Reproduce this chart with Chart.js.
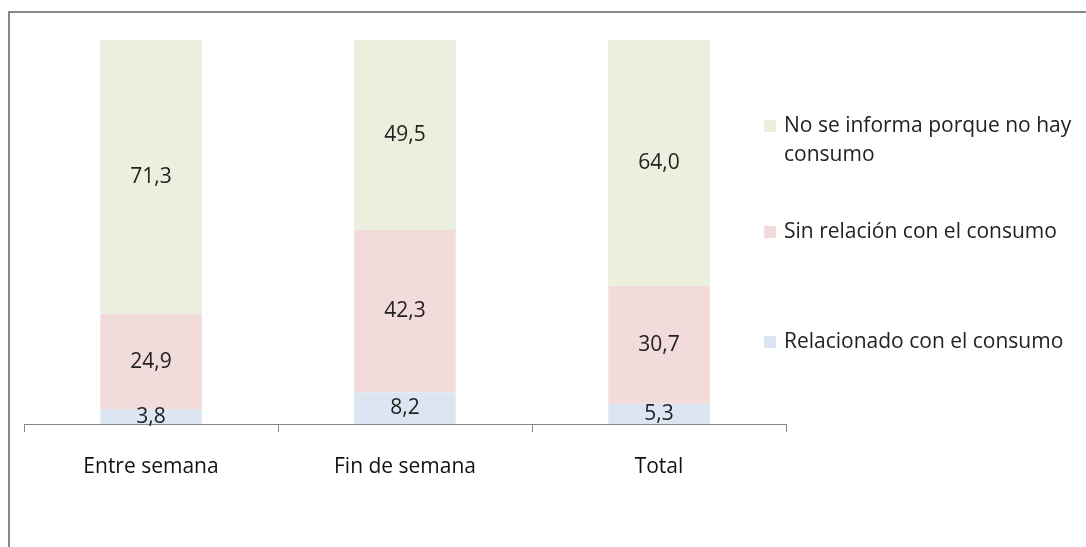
<!DOCTYPE html>
<html lang="es">
<head>
    <meta charset="UTF-8">
    <title>Relación con el consumo</title>
    <script src="https://cdn.jsdelivr.net/npm/chart.js"></script>
    <style>
        body { margin: 0; background: #fff; }
    </style>
</head>
<body>

<canvas id="consumoChart" width="1086" height="547"></canvas>

<script>
const categories = ['Entre semana', 'Fin de semana', 'Total'];
const relacionado = [3.8, 8.2, 5.3];
const sinRelacion = [24.9, 42.3, 30.7];
const noConsumo = [71.3, 49.5, 64.0];

const FONT = '"Open Sans", "Liberation Sans", Arial, sans-serif';

// grey frame round the whole chart
const framePlugin = {
    id: 'frame',
    beforeDraw(chart) {
        const ctx = chart.ctx;
        ctx.save();
        ctx.strokeStyle = '#878787';
        ctx.lineWidth = 2;
        ctx.strokeRect(9, 12, 1200, 700);
        ctx.restore();
    }
};

// values written in the middle of each segment
const valueLabels = {
    id: 'valueLabels',
    afterDatasetsDraw(chart) {
        const ctx = chart.ctx;
        ctx.save();
        ctx.font = '21px ' + FONT;
        ctx.fillStyle = '#222';
        ctx.textAlign = 'center';
        ctx.textBaseline = 'middle';
        chart.data.datasets.forEach((ds, i) => {
            chart.getDatasetMeta(i).data.forEach((bar, j) => {
                const y = (bar.y + bar.base) / 2;
                ctx.fillText(ds.data[j].toFixed(1).replace('.', ','), bar.x, y);
            });
        });
        ctx.restore();
    }
};

// legend on the right, top series first, long labels wrapped
const sideLegend = {
    id: 'sideLegend',
    afterDraw(chart) {
        const ctx = chart.ctx;
        const rows = [126, 232, 342];
        const maxW = 300;
        ctx.save();
        ctx.font = '21px ' + FONT;
        ctx.textBaseline = 'middle';
        ctx.textAlign = 'left';
        const ds = chart.data.datasets.slice().reverse();
        ds.forEach((d, i) => {
            const y = rows[i];
            ctx.fillStyle = d.backgroundColor;
            ctx.fillRect(764, y - 6, 12, 12);
            ctx.fillStyle = '#222';
            const words = d.label.split(' ');
            let line = '';
            let ly = y;
            words.forEach(w => {
                const test = line ? line + ' ' + w : w;
                if (ctx.measureText(test).width > maxW && line) {
                    ctx.fillText(line, 784, ly);
                    line = w;
                    ly += 29;
                } else {
                    line = test;
                }
            });
            ctx.fillText(line, 784, ly);
        });
        ctx.restore();
    }
};

const ctx = document.getElementById('consumoChart').getContext('2d');
new Chart(ctx, {
    type: 'bar',
    data: {
        labels: categories,
        datasets: [
            { label: 'Relacionado con el consumo', data: relacionado, backgroundColor: '#dce6f2' },
            { label: 'Sin relación con el consumo', data: sinRelacion, backgroundColor: '#f2dcdb' },
            { label: 'No se informa porque no hay consumo', data: noConsumo, backgroundColor: '#ebf0de' }
        ]
    },
    options: {
        responsive: false,
        animation: false,
        layout: { padding: { left: 24, right: 300, top: 40, bottom: 0 } },
        datasets: { bar: { categoryPercentage: 1, barPercentage: 0.4 } },
        scales: {
            x: {
                stacked: true,
                afterFit(scale) { scale.height = 123; },
                grid: { drawOnChartArea: false, drawTicks: true, tickLength: 8, color: '#878787' },
                border: { color: '#878787' },
                ticks: { color: '#111', padding: 22, font: { size: 21, family: FONT } }
            },
            y: {
                stacked: true,
                display: false,
                min: 0,
                max: 100
            }
        },
        plugins: {
            legend: { display: false },
            tooltip: { enabled: false }
        }
    },
    plugins: [framePlugin, valueLabels, sideLegend]
});
</script>

</body>
</html>
